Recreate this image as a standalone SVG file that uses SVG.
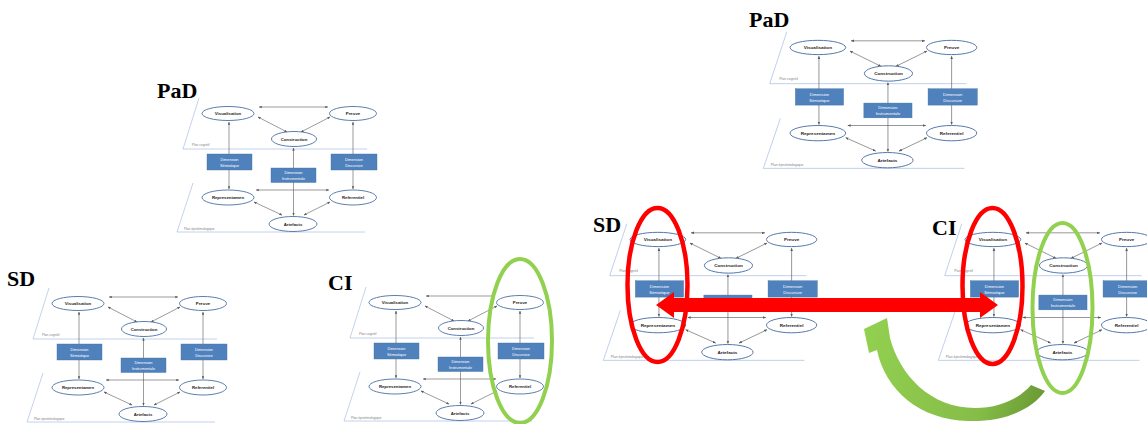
<svg xmlns="http://www.w3.org/2000/svg" width="1147" height="424" viewBox="0 0 1147 424">
<defs>
<style>
.pl{fill:none;stroke:#b4c7e7;stroke-width:.8}
.plt{font-family:"Liberation Sans",Arial,sans-serif;font-size:3.2px;fill:#7f7f7f}
.cn line{stroke:#595959;stroke-width:.6;marker-start:url(#ah);marker-end:url(#ah)}
.el{fill:#fff;stroke:#4a6fa5;stroke-width:.9}
.lb{font-family:"Liberation Sans",Arial,sans-serif;font-size:4.3px;font-weight:bold;fill:#1a1a1a;text-anchor:middle}
.bx{fill:#4f81bd;stroke:#41719c;stroke-width:.4}
.bt{font-family:"Liberation Sans",Arial,sans-serif;font-size:3.8px;fill:#fff;text-anchor:middle}
.tt{font-family:"Liberation Serif","Times New Roman",serif;font-size:22px;font-weight:bold;fill:#000}
.re{fill:none;stroke:#ff0000;stroke-width:4.5}
.ge{fill:none;stroke:#92d050;stroke-width:4}
</style>
<marker id="ah" viewBox="0 0 10 10" refX="9" refY="5" markerWidth="3" markerHeight="3" markerUnits="userSpaceOnUse" orient="auto-start-reverse"><path d="M0,1 L10,5 L0,9 Z" fill="#595959"/></marker>
<linearGradient id="gg" x1="1045" y1="390" x2="866" y2="332" gradientUnits="userSpaceOnUse"><stop offset="0" stop-color="#6a9a35"/><stop offset="0.3" stop-color="#86bd48"/><stop offset="1" stop-color="#92d050"/></linearGradient>
</defs>
<rect width="1147" height="424" fill="#fff"/>

<!-- Diagram 1: PaD top-left -->
<g id="pad1">
 <g class="planes"><polyline class="pl" points="199,98 183,149 367,149"/><polyline class="pl" points="193,183 177,232 365,232"/><text class="plt" x="192" y="145.5">Plan cognitif</text><text class="plt" x="184" y="229.5">Plan épistémologique</text></g>
 <g id="pad1-connectors" class="cn">
  <line x1="259" y1="107" x2="328" y2="107"/><line x1="258" y1="117" x2="287" y2="132"/><line x1="330" y1="117" x2="301" y2="132"/>
  <line x1="229" y1="122" x2="229" y2="189"/><line x1="353" y1="122" x2="353" y2="189"/><line x1="293.5" y1="148" x2="293.5" y2="215.5"/>
  <line x1="256" y1="190" x2="329" y2="190"/><line x1="254" y1="202" x2="282" y2="215"/><line x1="330" y1="202" x2="304" y2="215"/>
 </g>
 <g id="pad1-semiotique"><rect class="bx" x="207" y="154" width="45" height="16"/><text class="bt" x="229.5" y="161">Dimension</text><text class="bt" x="229.5" y="166.5">Sémiotique</text></g>
 <g id="pad1-instrumentale"><rect class="bx" x="271" y="168" width="45" height="14.5"/><text class="bt" x="293.5" y="174.3">Dimension</text><text class="bt" x="293.5" y="179.6">Instrumentale</text></g>
 <g id="pad1-discursive"><rect class="bx" x="331" y="154" width="46" height="16"/><text class="bt" x="354" y="161">Dimension</text><text class="bt" x="354" y="166.5">Discursive</text></g>
 <g id="pad1-visualisation"><ellipse class="el" cx="228" cy="113.5" rx="26" ry="7"/><text class="lb" x="228" y="115">Visualisation</text></g>
 <g id="pad1-preuve"><ellipse class="el" cx="353" cy="113.5" rx="23.5" ry="7"/><text class="lb" x="353" y="115">Preuve</text></g>
 <g id="pad1-construction"><ellipse class="el" cx="294" cy="139" rx="22.5" ry="7.5"/><text class="lb" x="294" y="140.5">Construction</text></g>
 <g id="pad1-representamen"><ellipse class="el" cx="228" cy="197.5" rx="26" ry="7.5"/><text class="lb" x="228" y="199">Representamen</text></g>
 <g id="pad1-referentiel"><ellipse class="el" cx="353" cy="197.5" rx="23.5" ry="7.5"/><text class="lb" x="353" y="199">Referentiel</text></g>
 <g id="pad1-artefacts"><ellipse class="el" cx="293" cy="224" rx="24" ry="7.5"/><text class="lb" x="293" y="225.5">Artefacts</text></g>
</g>

<!-- Diagram 2: SD bottom-left -->
<g id="sd1" transform="translate(-150,190)">
 <g class="planes"><polyline class="pl" points="199,98 183,149 367,149"/><polyline class="pl" points="193,183 177,232 365,232"/><text class="plt" x="192" y="145.5">Plan cognitif</text><text class="plt" x="184" y="229.5">Plan épistémologique</text></g>
 <g id="sd1-connectors" class="cn">
  <line x1="259" y1="107" x2="328" y2="107"/><line x1="258" y1="117" x2="287" y2="132"/><line x1="330" y1="117" x2="301" y2="132"/>
  <line x1="229" y1="122" x2="229" y2="189"/><line x1="353" y1="122" x2="353" y2="189"/><line x1="293.5" y1="148" x2="293.5" y2="215.5"/>
  <line x1="256" y1="190" x2="329" y2="190"/><line x1="254" y1="202" x2="282" y2="215"/><line x1="330" y1="202" x2="304" y2="215"/>
 </g>
 <g id="sd1-semiotique"><rect class="bx" x="207" y="154" width="45" height="16"/><text class="bt" x="229.5" y="161">Dimension</text><text class="bt" x="229.5" y="166.5">Sémiotique</text></g>
 <g id="sd1-instrumentale"><rect class="bx" x="271" y="168" width="45" height="14.5"/><text class="bt" x="293.5" y="174.3">Dimension</text><text class="bt" x="293.5" y="179.6">Instrumentale</text></g>
 <g id="sd1-discursive"><rect class="bx" x="331" y="154" width="46" height="16"/><text class="bt" x="354" y="161">Dimension</text><text class="bt" x="354" y="166.5">Discursive</text></g>
 <g id="sd1-visualisation"><ellipse class="el" cx="228" cy="113.5" rx="26" ry="7"/><text class="lb" x="228" y="115">Visualisation</text></g>
 <g id="sd1-preuve"><ellipse class="el" cx="353" cy="113.5" rx="23.5" ry="7"/><text class="lb" x="353" y="115">Preuve</text></g>
 <g id="sd1-construction"><ellipse class="el" cx="294" cy="139" rx="22.5" ry="7.5"/><text class="lb" x="294" y="140.5">Construction</text></g>
 <g id="sd1-representamen"><ellipse class="el" cx="228" cy="197.5" rx="26" ry="7.5"/><text class="lb" x="228" y="199">Representamen</text></g>
 <g id="sd1-referentiel"><ellipse class="el" cx="353" cy="197.5" rx="23.5" ry="7.5"/><text class="lb" x="353" y="199">Referentiel</text></g>
 <g id="sd1-artefacts"><ellipse class="el" cx="293" cy="224" rx="24" ry="7.5"/><text class="lb" x="293" y="225.5">Artefacts</text></g>
</g>

<!-- Diagram 3: CI bottom-middle -->
<g id="ci1" transform="translate(167,189)">
 <g class="planes"><polyline class="pl" points="199,98 183,149 367,149"/><polyline class="pl" points="193,183 177,232 365,232"/><text class="plt" x="192" y="145.5">Plan cognitif</text><text class="plt" x="184" y="229.5">Plan épistémologique</text></g>
 <g id="ci1-connectors" class="cn">
  <line x1="259" y1="107" x2="328" y2="107"/><line x1="258" y1="117" x2="287" y2="132"/><line x1="330" y1="117" x2="301" y2="132"/>
  <line x1="229" y1="122" x2="229" y2="189"/><line x1="353" y1="122" x2="353" y2="189"/><line x1="293.5" y1="148" x2="293.5" y2="215.5"/>
  <line x1="256" y1="190" x2="329" y2="190"/><line x1="254" y1="202" x2="282" y2="215"/><line x1="330" y1="202" x2="304" y2="215"/>
 </g>
 <g id="ci1-semiotique"><rect class="bx" x="207" y="154" width="45" height="16"/><text class="bt" x="229.5" y="161">Dimension</text><text class="bt" x="229.5" y="166.5">Sémiotique</text></g>
 <g id="ci1-instrumentale"><rect class="bx" x="271" y="168" width="45" height="14.5"/><text class="bt" x="293.5" y="174.3">Dimension</text><text class="bt" x="293.5" y="179.6">Instrumentale</text></g>
 <g id="ci1-discursive"><rect class="bx" x="331" y="154" width="46" height="16"/><text class="bt" x="354" y="161">Dimension</text><text class="bt" x="354" y="166.5">Discursive</text></g>
 <g id="ci1-visualisation"><ellipse class="el" cx="228" cy="113.5" rx="26" ry="7"/><text class="lb" x="228" y="115">Visualisation</text></g>
 <g id="ci1-preuve"><ellipse class="el" cx="353" cy="113.5" rx="23.5" ry="7"/><text class="lb" x="353" y="115">Preuve</text></g>
 <g id="ci1-construction"><ellipse class="el" cx="294" cy="139" rx="22.5" ry="7.5"/><text class="lb" x="294" y="140.5">Construction</text></g>
 <g id="ci1-representamen"><ellipse class="el" cx="228" cy="197.5" rx="26" ry="7.5"/><text class="lb" x="228" y="199">Representamen</text></g>
 <g id="ci1-referentiel"><ellipse class="el" cx="353" cy="197.5" rx="23.5" ry="7.5"/><text class="lb" x="353" y="199">Referentiel</text></g>
 <g id="ci1-artefacts"><ellipse class="el" cx="293" cy="224" rx="24" ry="7.5"/><text class="lb" x="293" y="225.5">Artefacts</text></g>
</g>

<!-- Diagram 4: PaD top-right -->
<g id="pad2" transform="translate(573.9,-68.3) scale(1.07,1.02)">
 <g class="planes"><polyline class="pl" points="199,98 183,149 367,149"/><polyline class="pl" points="193,183 177,232 365,232"/><text class="plt" x="192" y="145.5">Plan cognitif</text><text class="plt" x="184" y="229.5">Plan épistémologique</text></g>
 <g id="pad2-connectors" class="cn">
  <line x1="259" y1="107" x2="328" y2="107"/><line x1="258" y1="117" x2="287" y2="132"/><line x1="330" y1="117" x2="301" y2="132"/>
  <line x1="229" y1="122" x2="229" y2="189"/><line x1="353" y1="122" x2="353" y2="189"/><line x1="293.5" y1="148" x2="293.5" y2="215.5"/>
  <line x1="256" y1="190" x2="329" y2="190"/><line x1="254" y1="202" x2="282" y2="215"/><line x1="330" y1="202" x2="304" y2="215"/>
 </g>
 <g id="pad2-semiotique"><rect class="bx" x="207" y="154" width="45" height="16"/><text class="bt" x="229.5" y="161">Dimension</text><text class="bt" x="229.5" y="166.5">Sémiotique</text></g>
 <g id="pad2-instrumentale"><rect class="bx" x="271" y="168" width="45" height="14.5"/><text class="bt" x="293.5" y="174.3">Dimension</text><text class="bt" x="293.5" y="179.6">Instrumentale</text></g>
 <g id="pad2-discursive"><rect class="bx" x="331" y="154" width="46" height="16"/><text class="bt" x="354" y="161">Dimension</text><text class="bt" x="354" y="166.5">Discursive</text></g>
 <g id="pad2-visualisation"><ellipse class="el" cx="228" cy="113.5" rx="26" ry="7"/><text class="lb" x="228" y="115">Visualisation</text></g>
 <g id="pad2-preuve"><ellipse class="el" cx="353" cy="113.5" rx="23.5" ry="7"/><text class="lb" x="353" y="115">Preuve</text></g>
 <g id="pad2-construction"><ellipse class="el" cx="294" cy="139" rx="22.5" ry="7.5"/><text class="lb" x="294" y="140.5">Construction</text></g>
 <g id="pad2-representamen"><ellipse class="el" cx="228" cy="197.5" rx="26" ry="7.5"/><text class="lb" x="228" y="199">Representamen</text></g>
 <g id="pad2-referentiel"><ellipse class="el" cx="353" cy="197.5" rx="23.5" ry="7.5"/><text class="lb" x="353" y="199">Referentiel</text></g>
 <g id="pad2-artefacts"><ellipse class="el" cx="293" cy="224" rx="24" ry="7.5"/><text class="lb" x="293" y="225.5">Artefacts</text></g>
</g>

<!-- Diagram 5: SD right -->
<g id="sd2" transform="translate(413.9,123.7) scale(1.07,1.02)">
 <g class="planes"><polyline class="pl" points="199,98 183,149 367,149"/><polyline class="pl" points="193,183 177,232 365,232"/><text class="plt" x="192" y="145.5">Plan cognitif</text><text class="plt" x="184" y="229.5">Plan épistémologique</text></g>
 <g id="sd2-connectors" class="cn">
  <line x1="259" y1="107" x2="328" y2="107"/><line x1="258" y1="117" x2="287" y2="132"/><line x1="330" y1="117" x2="301" y2="132"/>
  <line x1="229" y1="122" x2="229" y2="189"/><line x1="353" y1="122" x2="353" y2="189"/><line x1="293.5" y1="148" x2="293.5" y2="215.5"/>
  <line x1="256" y1="190" x2="329" y2="190"/><line x1="254" y1="202" x2="282" y2="215"/><line x1="330" y1="202" x2="304" y2="215"/>
 </g>
 <g id="sd2-semiotique"><rect class="bx" x="207" y="154" width="45" height="16"/><text class="bt" x="229.5" y="161">Dimension</text><text class="bt" x="229.5" y="166.5">Sémiotique</text></g>
 <g id="sd2-instrumentale"><rect class="bx" x="271" y="168" width="45" height="14.5"/><text class="bt" x="293.5" y="174.3">Dimension</text><text class="bt" x="293.5" y="179.6">Instrumentale</text></g>
 <g id="sd2-discursive"><rect class="bx" x="331" y="154" width="46" height="16"/><text class="bt" x="354" y="161">Dimension</text><text class="bt" x="354" y="166.5">Discursive</text></g>
 <g id="sd2-visualisation"><ellipse class="el" cx="228" cy="113.5" rx="26" ry="7"/><text class="lb" x="228" y="115">Visualisation</text></g>
 <g id="sd2-preuve"><ellipse class="el" cx="353" cy="113.5" rx="23.5" ry="7"/><text class="lb" x="353" y="115">Preuve</text></g>
 <g id="sd2-construction"><ellipse class="el" cx="294" cy="139" rx="22.5" ry="7.5"/><text class="lb" x="294" y="140.5">Construction</text></g>
 <g id="sd2-representamen"><ellipse class="el" cx="228" cy="197.5" rx="26" ry="7.5"/><text class="lb" x="228" y="199">Representamen</text></g>
 <g id="sd2-referentiel"><ellipse class="el" cx="353" cy="197.5" rx="23.5" ry="7.5"/><text class="lb" x="353" y="199">Referentiel</text></g>
 <g id="sd2-artefacts"><ellipse class="el" cx="293" cy="224" rx="24" ry="7.5"/><text class="lb" x="293" y="225.5">Artefacts</text></g>
</g>

<!-- Diagram 6: CI right -->
<g id="ci2" transform="translate(748.9,123.7) scale(1.07,1.02)">
 <g class="planes"><polyline class="pl" points="199,98 183,149 367,149"/><polyline class="pl" points="193,183 177,232 365,232"/><text class="plt" x="192" y="145.5">Plan cognitif</text><text class="plt" x="184" y="229.5">Plan épistémologique</text></g>
 <g id="ci2-connectors" class="cn">
  <line x1="259" y1="107" x2="328" y2="107"/><line x1="258" y1="117" x2="287" y2="132"/><line x1="330" y1="117" x2="301" y2="132"/>
  <line x1="229" y1="122" x2="229" y2="189"/><line x1="353" y1="122" x2="353" y2="189"/><line x1="293.5" y1="148" x2="293.5" y2="215.5"/>
  <line x1="256" y1="190" x2="329" y2="190"/><line x1="254" y1="202" x2="282" y2="215"/><line x1="330" y1="202" x2="304" y2="215"/>
 </g>
 <g id="ci2-semiotique"><rect class="bx" x="207" y="154" width="45" height="16"/><text class="bt" x="229.5" y="161">Dimension</text><text class="bt" x="229.5" y="166.5">Sémiotique</text></g>
 <g id="ci2-instrumentale"><rect class="bx" x="271" y="168" width="45" height="14.5"/><text class="bt" x="293.5" y="174.3">Dimension</text><text class="bt" x="293.5" y="179.6">Instrumentale</text></g>
 <g id="ci2-discursive"><rect class="bx" x="331" y="154" width="46" height="16"/><text class="bt" x="354" y="161">Dimension</text><text class="bt" x="354" y="166.5">Discursive</text></g>
 <g id="ci2-visualisation"><ellipse class="el" cx="228" cy="113.5" rx="26" ry="7"/><text class="lb" x="228" y="115">Visualisation</text></g>
 <g id="ci2-preuve"><ellipse class="el" cx="353" cy="113.5" rx="23.5" ry="7"/><text class="lb" x="353" y="115">Preuve</text></g>
 <g id="ci2-construction"><ellipse class="el" cx="294" cy="139" rx="22.5" ry="7.5"/><text class="lb" x="294" y="140.5">Construction</text></g>
 <g id="ci2-representamen"><ellipse class="el" cx="228" cy="197.5" rx="26" ry="7.5"/><text class="lb" x="228" y="199">Representamen</text></g>
 <g id="ci2-referentiel"><ellipse class="el" cx="353" cy="197.5" rx="23.5" ry="7.5"/><text class="lb" x="353" y="199">Referentiel</text></g>
 <g id="ci2-artefacts"><ellipse class="el" cx="293" cy="224" rx="24" ry="7.5"/><text class="lb" x="293" y="225.5">Artefacts</text></g>
</g>

<!-- Titles -->
<g id="titles">
 <text class="tt" x="157" y="98">PaD</text>
 <text class="tt" x="7" y="286">SD</text>
 <text class="tt" x="328" y="290">CI</text>
 <text class="tt" x="749" y="27">PaD</text>
 <text class="tt" x="593" y="232">SD</text>
 <text class="tt" x="932" y="235">CI</text>
</g>

<!-- Highlights -->
<g id="highlights">
 <ellipse class="ge" cx="520" cy="341" rx="32" ry="82"/>
 <ellipse class="re" cx="657.5" cy="285" rx="30" ry="77"/>
 <ellipse class="re" cx="992.5" cy="286" rx="30" ry="78"/>
 <ellipse class="ge" cx="1062.5" cy="308" rx="30" ry="85"/>
</g>

<!-- Red double arrow -->
<g id="red-arrow">
 <polygon points="656,305 674,292 674,298 980,298 980,292 998,305 980,318 980,312 674,312 674,318" fill="#ff0000"/>
</g>

<!-- Green curved arrow -->
<g id="green-arrow">
 <path d="M864,329 L887,318 L890,338 C900,375 930,408 975,408 C1000,408 1020,398 1031,385 L1045,391 C1030,412 1000,422 968,421 C920,420 885,390 877,350 L869,353 Z" fill="url(#gg)"/>
</g>
</svg>
